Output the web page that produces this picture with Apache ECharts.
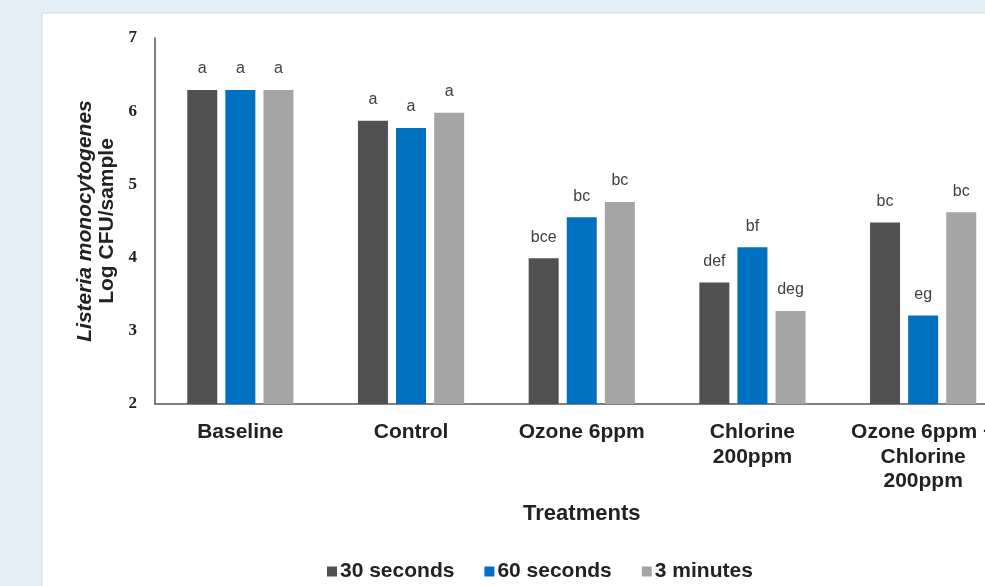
<!DOCTYPE html>
<html>
<head>
<meta charset="utf-8">
<script src="https://cdn.jsdelivr.net/npm/echarts@6/dist/echarts.min.js"></script>
<style>
html,body{margin:0;padding:0;background:#e3eef7;overflow:hidden;}
#c{width:985px;height:586px;}
</style>
</head>
<body>
<div id="c"></div>
<script>
var categories = ['Baseline', 'Control', 'Ozone 6ppm', 'Chlorine\n200ppm', 'Ozone 6ppm +\nChlorine\n200ppm'];
var seriesNames = ['30 seconds', '60 seconds', '3 minutes'];
var values30s = [6.29, 5.87, 3.99, 3.66, 4.48];
var values60s = [6.29, 5.77, 4.55, 4.14, 3.21];
var values3m  = [6.29, 5.98, 4.76, 3.27, 4.62];
var letters30s = ['a', 'a', 'bce', 'def', 'bc'];
var letters60s = ['a', 'a', 'bc', 'bf', 'eg'];
var letters3m  = ['a', 'a', 'bc', 'deg', 'bc'];
var yTicks = [2, 3, 4, 5, 6, 7];

var colors = ['#505050', '#0070c0', '#a5a5a5'];
var allValues = [values30s, values60s, values3m];
var allLetters = [letters30s, letters60s, letters3m];
var SANS = 'Liberation Sans, Arial, sans-serif';

var chart = echarts.init(document.getElementById('c'));
var series = allValues.map(function (vals, i) {
  return {
    name: seriesNames[i],
    type: 'bar',
    barWidth: 30,
    barGap: '27%',
    itemStyle: { color: colors[i] },
    label: {
      show: true,
      position: 'top',
      distance: 13,
      fontFamily: SANS,
      fontSize: 16,
      color: '#404040',
      formatter: function (p) { return allLetters[i][p.dataIndex]; }
    },
    data: vals
  };
});

chart.setOption({
  animation: false,
  backgroundColor: 'transparent',
  graphic: [{
    type: 'rect',
    z: -10,
    shape: { x: 42, y: 13, width: 1000, height: 620 },
    style: { fill: '#ffffff', stroke: '#d6d6d6', lineWidth: 1 }
  }],
  grid: { left: 155, top: 38, width: 853.5, height: 366, containLabel: false, outerBoundsMode: 'none' },
  legend: {
    left: 322, top: 556,
    icon: 'rect', itemWidth: 10, itemHeight: 10, itemGap: 30,
    data: seriesNames,
    textStyle: { fontFamily: SANS, fontWeight: 'bold', fontSize: 21, color: '#222', padding: [0, 0, 0, -2] }
  },
  xAxis: {
    type: 'category',
    data: categories,
    name: 'Treatments',
    nameLocation: 'middle',
    nameGap: 99,
    nameTextStyle: { fontFamily: SANS, fontWeight: 'bold', fontSize: 22, color: '#222' },
    axisLine: { lineStyle: { color: '#555', width: 1.5 } },
    axisTick: { show: false },
    axisLabel: {
      interval: 0, margin: 16,
      fontFamily: SANS, fontWeight: 'bold', fontSize: 21, color: '#222', lineHeight: 24.5
    }
  },
  yAxis: {
    type: 'value',
    min: 2, max: 7, interval: 1,
    name: '{i|Listeria monocytogenes}\n{n|Log CFU/sample}',
    nameLocation: 'middle',
    nameRotate: 90,
    nameGap: 37,
    nameTextStyle: {
      rich: {
        i: { fontFamily: SANS, fontWeight: 'bold', fontStyle: 'italic', fontSize: 21, color: '#222', lineHeight: 22, align: 'center' },
        n: { fontFamily: SANS, fontWeight: 'bold', fontSize: 21, color: '#222', lineHeight: 22, align: 'center' }
      }
    },
    axisLine: { show: true, lineStyle: { color: '#555', width: 1.5 } },
    axisTick: { show: false },
    splitLine: { show: false },
    axisLabel: {
      margin: 18,
      fontFamily: 'Liberation Serif, Times New Roman, serif', fontWeight: 'bold', fontSize: 17, color: '#222',
      formatter: function (v) { return yTicks.indexOf(v) >= 0 ? String(v) : ''; }
    }
  },
  series: series
});
</script>
</body>
</html>
